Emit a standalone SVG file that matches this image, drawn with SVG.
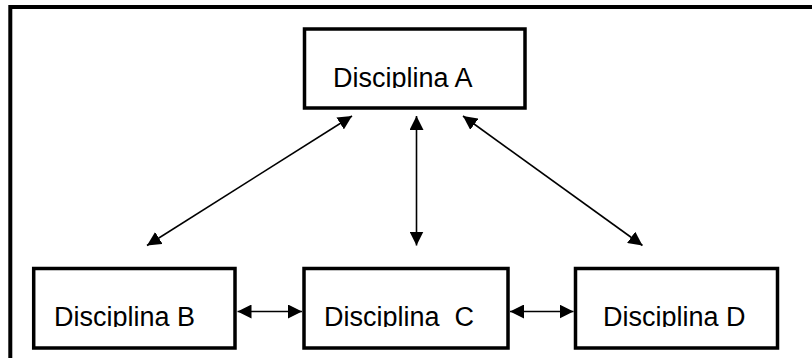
<svg xmlns="http://www.w3.org/2000/svg" width="812" height="358" viewBox="0 0 812 358">
  <style>
    .box { fill: #ffffff; stroke: #000000; stroke-width: 3.5; }
    .frame { fill: none; stroke: #000000; stroke-width: 4; }
    .label { font-family: "Liberation Sans", Arial, sans-serif; font-size: 27px; fill: #000000; }
    .link { stroke: #000000; stroke-width: 1.6; fill: none; marker-start: url(#head); marker-end: url(#head); }
  </style>
  <defs>
    <marker id="head" viewBox="0 0 14 14" refX="14" refY="7" markerWidth="14" markerHeight="14" markerUnits="userSpaceOnUse" orient="auto-start-reverse">
      <path d="M0,0 L14,7 L0,14 Z" fill="#000000"/>
    </marker>
    <!-- labels are cut at the baseline, so descenders do not show -->
    <clipPath id="clipTop"><rect x="0" y="0" width="812" height="88"/></clipPath>
    <clipPath id="clipBottom"><rect x="0" y="250" width="812" height="77"/></clipPath>
  </defs>

  <rect width="812" height="358" fill="#ffffff"/>

  <!-- outer frame (runs past the right and bottom edges) -->
  <path class="frame" d="M10.3,362 V7 H820"/>

  <g id="node-a">
    <rect class="box" x="304.5" y="29" width="220.5" height="79"/>
    <text class="label" x="333" y="87" clip-path="url(#clipTop)">Disciplina A</text>
  </g>

  <g id="node-b">
    <rect class="box" x="33.7" y="268.5" width="201.3" height="79.5"/>
    <text class="label" x="54" y="326" clip-path="url(#clipBottom)">Disciplina B</text>
  </g>

  <g id="node-c">
    <rect class="box" x="304" y="268.5" width="204" height="79.5"/>
    <text class="label" x="324" y="326" clip-path="url(#clipBottom)" xml:space="preserve">Disciplina  C</text>
  </g>

  <g id="node-d">
    <rect class="box" x="575.5" y="268.5" width="202" height="79.5"/>
    <text class="label" x="603" y="326" clip-path="url(#clipBottom)">Disciplina D</text>
  </g>

  <g id="connectors">
    <line class="link" x1="352" y1="116" x2="147" y2="245.5"/>
    <line class="link" x1="416.5" y1="116" x2="416.5" y2="245.5"/>
    <line class="link" x1="463" y1="116" x2="642.5" y2="245.5"/>
    <line class="link" x1="237.5" y1="311.5" x2="302" y2="311.5"/>
    <line class="link" x1="510" y1="311.5" x2="573.5" y2="311.5"/>
  </g>
</svg>
